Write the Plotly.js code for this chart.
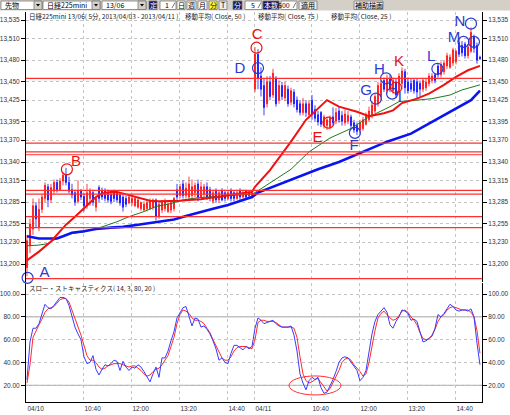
<!DOCTYPE html>
<html>
<head>
<meta charset="utf-8">
<script src="https://cdn.plot.ly/plotly-3.0.1.min.js"></script>
<style>
html,body{margin:0;padding:0;background:#fff;overflow:hidden}
#chart{width:510px;height:415px}
</style>
</head>
<body>
<div id="chart"></div>
<script>
// ---------- DATA ----------
const barOpen = [
13195,13225,13248,13280,13250,13275,13290,13306,13288,13300,
13312,13302,13314,13322,13312,13302,13298,13286,13300,13293,
13280,13290,13298,13278,13305,13300,13300,13298,13296,13298,
13298,13295,13292,13290,13284,13284,13280,13278,13276,13274,
13276,13276,13278,13288,13266,13274,13276,13272,13274,13276,
13302,13294,13310,13294,13292,13294,13298,13310,13292,13296,
13306,13302,13286,13300,13288,13300,13298,13290,13300,13298,
13290,13300,13292,13300,13298,13294,
13440,13488,13458,13445,13420,13450,13432,13455,13425,13445,
13428,13440,13422,13436,13425,13420,13408,13420,13405,13425,
13412,13405,13408,13390,13390,13388,13402,13396,13410,13404,
13394,13396,13402,13394,13390,13384,13386,13392,13398,13404,
13410,13420,13430,13452,13438,13455,13438,13450,13436,13448,
13464,13450,13448,13452,13450,13448,13440,13442,13448,13452,
13460,13472,13460,13464,13472,13470,13476,13478,13504,13500,
13502,13486,13492,13512,13500,13484];
const barHigh = [
13240,13262,13290,13285,13290,13296,13312,13310,13310,13316,
13316,13318,13326,13332,13320,13310,13302,13315,13303,13297,
13310,13304,13302,13292,13308,13305,13304,13302,13300,13302,
13300,13298,13296,13294,13295,13296,13293,13292,13286,13286,
13287,13290,13290,13290,13285,13288,13290,13285,13286,13292,
13310,13310,13315,13312,13320,13316,13312,13316,13313,13310,
13312,13306,13302,13304,13300,13304,13302,13302,13304,13300,
13302,13304,13302,13302,13300,13300,
13498,13495,13470,13455,13458,13458,13468,13458,13452,13450,
13450,13445,13442,13440,13430,13425,13428,13425,13424,13432,
13418,13410,13410,13405,13402,13404,13415,13414,13416,13410,
13412,13410,13405,13398,13394,13398,13402,13408,13416,13424,
13434,13450,13452,13456,13460,13460,13456,13454,13462,13470,
13468,13456,13455,13455,13455,13452,13455,13454,13462,13462,
13462,13476,13478,13480,13490,13488,13497,13494,13510,13506,
13505,13502,13525,13515,13504,13486];
const barLow = [
13183,13215,13240,13250,13245,13270,13285,13278,13284,13296,
13298,13300,13308,13308,13297,13290,13280,13283,13288,13272,
13276,13280,13280,13272,13285,13288,13286,13284,13282,13285,
13285,13280,13272,13278,13282,13280,13278,13276,13273,13272,
13272,13274,13274,13260,13262,13270,13272,13270,13270,13272,
13288,13290,13290,13290,13288,13290,13292,13286,13290,13292,
13288,13286,13283,13284,13284,13286,13286,13288,13286,13286,
13288,13288,13290,13289,13290,13290,
13436,13440,13430,13404,13415,13425,13428,13416,13420,13425,
13424,13416,13418,13415,13408,13404,13404,13402,13400,13398,
13396,13390,13388,13386,13384,13385,13390,13392,13394,13390,
13390,13392,13386,13380,13377,13380,13383,13390,13396,13400,
13407,13416,13425,13436,13434,13436,13434,13428,13432,13440,
13434,13434,13436,13434,13427,13430,13436,13438,13444,13448,
13448,13456,13456,13460,13468,13468,13472,13474,13484,13485,
13482,13482,13490,13490,13475,13480];
const barClose = [
13232,13255,13280,13262,13275,13292,13308,13288,13305,13312,
13302,13314,13322,13312,13300,13295,13285,13300,13292,13280,
13298,13300,13285,13290,13290,13292,13290,13288,13286,13290,
13288,13284,13278,13282,13292,13290,13290,13288,13284,13282,
13284,13286,13288,13266,13282,13286,13286,13282,13284,13290,
13292,13306,13294,13304,13310,13306,13308,13292,13306,13306,
13292,13290,13298,13288,13298,13288,13290,13298,13290,13290,
13298,13292,13298,13292,13294,13298,
13488,13455,13440,13415,13450,13430,13462,13420,13445,13430,
13445,13420,13438,13420,13412,13408,13420,13408,13420,13405,
13400,13395,13392,13402,13398,13400,13394,13408,13398,13396,
13406,13404,13390,13384,13382,13394,13398,13404,13410,13418,
13430,13445,13448,13440,13455,13440,13452,13432,13458,13465,
13442,13438,13440,13438,13436,13440,13452,13450,13458,13458,
13452,13460,13474,13476,13486,13484,13494,13492,13488,13490,
13486,13498,13518,13496,13480,13482];

const tickBars = [0,19,35,51,67,76,95,111,127,143];
const tickLabels = ['04/10','10:40','12:00','13:20','14:40','04/11','10:40','12:00','13:20','14:40'];

const ma25Bars = [0,4,8,11,13,16,19,21,23,25,28,30,32,34,37,39,41,44,48,51,54,58,61,64,68,71,75,76,81,88,93,100,104,110,114,119,122,125,130,134,139,143,147,151];
const ma25 = [13205,13217,13231,13244,13254,13265,13276,13284,13292,13297,13299,13299,13297,13295,13292,13289,13287,13286,13286,13287,13288,13289,13291,13292,13295,13297,13299,13306,13329,13368,13398,13425,13416,13409,13403,13407,13411,13421,13427,13434,13446,13457,13466,13472];

const ma50Bars = [0,2,4,7,9,12,15,19,22,25,30,34,39,43,48,52,57,61,65,70,75,76,88,94,101,108,114,121,124,130,135,141,145,151];
const ma50 = [13225,13225,13226,13228,13233,13238,13242,13244,13247,13251,13258,13265,13272,13279,13283,13288,13291,13292,13293,13294,13296,13298,13330,13354,13373,13386,13402,13416,13423,13425,13427,13432,13439,13446];

const ma75Bars = [0,2,4,8,10,12,15,19,23,28,32,37,41,44,49,53,58,62,67,71,75,77,97,104,112,120,128,134,141,148,151];
const ma75 = [13238,13237,13235,13235,13235,13238,13243,13245,13248,13250,13251,13254,13256,13258,13261,13266,13272,13276,13281,13287,13292,13298,13330,13340,13354,13368,13379,13393,13409,13425,13438];

const priceTicks = [13535,13510,13480,13450,13425,13395,13370,13340,13315,13285,13255,13230,13200];
const supportLevels = [13455,13366,13354,13350,13301,13296,13265,13250,13180];

const stochK = [
25,58,70,70,74,83,91,88,87,90,
94,97,97,96,90,80,71,65,60,45,
39,40,46,34,29,34,38,37,39,42,
41,33,41,36,33,36,35,38,36,32,
28,23,30,36,27,44,44,50,59,67,
79,84,88,89,80,72,79,78,71,72,
69,65,59,52,42,44,40,39,48,55,
55,53,51,54,52,54,70,79,77,74,
75,76,77,74,72,71,71,71,72,64,
50,30,22,16,24,27,25,27,18,13,
14,19,25,32,40,44,45,44,40,37,
33,24,27,33,48,65,76,82,85,88,
84,73,70,76,80,86,85,83,77,78,
76,66,58,59,61,63,70,82,80,83,
87,91,89,86,85,86,86,85,87,80,
57,38];
const stochD = [
22,38,62,68,73,78,84,87,88,89,
92,95,96,96,93,86,78,71,64,55,
46,42,42,40,36,34,35,37,38,39,
39,39,38,37,36,37,37,35,33,30,
28,29,32,34,35,38,42,46,54,62,
74,82,86,85,83,79,77,77,76,74,
70,66,60,55,49,44,42,42,45,50,
53,54,54,54,53,52,60,75,77,77,
76,76,76,75,73,71,71,71,71,70,
62,45,30,24,22,23,25,26,22,18,
15,17,22,27,33,40,43,44,42,38,
35,32,28,30,40,55,68,79,83,85,
82,79,77,78,81,85,86,84,80,77,
73,66,61,60,61,64,69,76,80,82,
86,88,89,88,87,86,86,86,84,80,
68,48];
const stochTicks = [100,80,60,40,20];
const stochLevels = [80,20];

const markLetters = ['A','B','C','D','E','F','G','H','I','K','L','M','N','O'];
const markBars   = [5.8,16.3,76.7,71,96.8,109,113,117.5,124.3,124,134.7,142.3,144.3,153.4];
const markPrices = [13188,13340,13514,13468,13373,13361,13437,13466,13427,13477,13484,13510,13532,13495];
const markTone   = ['b','r','r','b','r','b','b','b','b','r','b','b','b','b'];

const circleBars   = [0.2,13.3,76.5,77,100.5,109.3,116.3,119.7,121.7,123,136.8,145.5,149,148];
const circlePrices = [13181,13330,13497,13469,13394,13380,13427,13455,13434,13442,13468,13505,13505,13530];
const circleTone   = ['b','r','r','b','r','b','b','b','b','r','b','b','b','b'];

const stochZoneBar = 96;
const stochZoneValue = 20.3;

// ---------- STYLE ----------
const RED = '#ff1010', BLUE = '#1010ff';
const LBL_RED = '#e81010', LBL_BLUE = '#2a3bd0';
const tone = t => t === 'r' ? LBL_RED : LBL_BLUE;
const barIndex = barClose.map((_, i) => i);
const fmtPrice = v => v.toLocaleString('en-US');
const small = {family: 'Liberation Sans, Arial, sans-serif', size: 6.5, color: '#333'};
const cjk = {family: 'Noto Sans CJK JP, sans-serif', size: 6.5, color: '#222'};
const letterSizes = markLetters.map(l => l === 'O' ? 12 : 15);

const traces = [
  {type: 'candlestick', x: barIndex, open: barOpen, high: barHigh, low: barLow, close: barClose,
   xaxis: 'x2', yaxis: 'y', whiskerwidth: 0,
   increasing: {line: {color: RED, width: 0.8}, fillcolor: RED},
   decreasing: {line: {color: BLUE, width: 0.8}, fillcolor: BLUE},
   hoverinfo: 'skip'},
  {type: 'scatter', mode: 'lines', x: ma50Bars, y: ma50, xaxis: 'x2', yaxis: 'y',
   line: {color: '#1f7a1f', width: 1}, hoverinfo: 'skip'},
  {type: 'scatter', mode: 'lines', x: ma75Bars, y: ma75, xaxis: 'x2', yaxis: 'y',
   line: {color: '#0a14f0', width: 2.6}, hoverinfo: 'skip'},
  {type: 'scatter', mode: 'lines', x: ma25Bars, y: ma25, xaxis: 'x2', yaxis: 'y',
   line: {color: '#f01010', width: 2}, hoverinfo: 'skip'},
  {type: 'scatter', mode: 'markers', x: circleBars, y: circlePrices, xaxis: 'x2', yaxis: 'y',
   marker: {symbol: 'circle-open', size: 11, color: circleTone.map(tone), line: {width: 1.2}},
   cliponaxis: false, hoverinfo: 'skip'},
  {type: 'scatter', mode: 'text', x: markBars, y: markPrices, text: markLetters, xaxis: 'x2', yaxis: 'y',
   textposition: 'middle center',
   textfont: {family: 'Liberation Sans, Arial, sans-serif', size: letterSizes, color: markTone.map(tone)},
   cliponaxis: false, hoverinfo: 'skip'},
  {type: 'scatter', mode: 'lines', x: barIndex, y: stochD, xaxis: 'x', yaxis: 'y2',
   line: {color: '#ff2a2a', width: 1}, hoverinfo: 'skip'},
  {type: 'scatter', mode: 'lines', x: barIndex, y: stochK, xaxis: 'x', yaxis: 'y2',
   line: {color: '#3a3aff', width: 1}, hoverinfo: 'skip'},
  {type: 'scatter', x: [], y: [], xaxis: 'x2', yaxis: 'y3', hoverinfo: 'skip'},
  {type: 'scatter', x: [], y: [], xaxis: 'x', yaxis: 'y4', hoverinfo: 'skip'}
];

const xRange = [-0.33, 151.67];
const priceRange = [13175.3, 13546];
const stochRange = [5.36, 109.64];
const grid = {showgrid: true, gridcolor: '#c4c4c4', griddash: 'dot', gridwidth: 1, zeroline: false};

const yMain = Object.assign({}, grid, {
  domain: [0.3077, 1], anchor: 'x2', range: priceRange, tickmode: 'array',
  tickvals: priceTicks, ticktext: priceTicks.map(fmtPrice), ticks: 'outside', ticklen: 4,
  tickcolor: '#000', showline: true, linecolor: '#000', linewidth: 1, tickfont: small, fixedrange: true});
const yStoch = Object.assign({}, grid, {
  domain: [0, 0.3051], anchor: 'x', range: stochRange, tickmode: 'array',
  tickvals: stochTicks, ticktext: stochTicks.map(v => v.toFixed(2)), ticks: 'outside', ticklen: 4,
  tickcolor: '#000', showline: true, linecolor: '#000', linewidth: 1, tickfont: small, fixedrange: true});

// ---------- PAGE FURNITURE (toolbar / headers) ----------
const px2x = p => (p - 26) / 456;
const py2y = p => (402 - p) / 390;
const shapes = [];
const annotations = [];

supportLevels.forEach(v => shapes.push({type: 'line', xref: 'paper', yref: 'y', x0: 0, x1: 1, y0: v, y1: v,
  line: {color: '#ff3030', width: 1.2}, layer: 'above'}));
stochLevels.forEach(v => shapes.push({type: 'line', xref: 'paper', yref: 'y2', x0: 0, x1: 1, y0: v, y1: v,
  line: {color: '#a0a0a0', width: 1}, layer: 'below'}));
shapes.push({type: 'circle', xref: 'x', yref: 'y2', xsizemode: 'pixel', ysizemode: 'pixel',
  xanchor: stochZoneBar, yanchor: stochZoneValue, x0: -26, x1: 26, y0: -10, y1: 9,
  line: {color: '#ff3030', width: 1}});

// toolbar background
shapes.push({type: 'rect', xref: 'paper', yref: 'paper', x0: px2x(0), x1: px2x(510), y0: py2y(10.5), y1: py2y(0),
  fillcolor: '#d4d0c8', line: {width: 0}, layer: 'above'});

const toolbar = [
  {kind: 'combo', a: 1, b: 42, t: '先物'},
  {kind: 'combo', a: 43, b: 100, t: '日経225mini'},
  {kind: 'combo', a: 102, b: 146, t: '13/06'},
  {kind: 'btn', a: 149, b: 157, t: '定', bg: '#14145a', fg: '#fff'},
  {kind: 'spin', a: 160, b: 176, t: '1'},
  {kind: 'btn', a: 177, b: 185, t: '日', bg: '#fff'},
  {kind: 'btn', a: 187, b: 196, t: '週', bg: '#fff'},
  {kind: 'btn', a: 198, b: 207, t: '月', bg: '#fff'},
  {kind: 'btn', a: 209, b: 217, t: '分', bg: '#ffff30'},
  {kind: 'btn', a: 219, b: 227, t: 'T', bg: '#ececec'},
  {kind: 'btn', a: 233, b: 242, t: '分', bg: '#14145a', fg: '#fff'},
  {kind: 'spin', a: 245, b: 262, t: '5'},
  {kind: 'btn', a: 263, b: 279, t: '本数', bg: '#14145a', fg: '#fff'},
  {kind: 'spin', a: 281, b: 297, t: '500'},
  {kind: 'btn', a: 299, b: 317, t: '適用', bg: '#ececec'},
  {kind: 'btn', a: 354, b: 383, t: '補助描画', bg: '#ececec'}
];
const tbTop = 1, tbBot = 9.5;
const tbFont = c => ({family: 'Noto Sans CJK JP, sans-serif', size: 7, color: c || '#000'});
toolbar.forEach(w => {
  const bg = w.kind === 'btn' ? w.bg : '#fff';
  shapes.push({type: 'rect', xref: 'paper', yref: 'paper', x0: px2x(w.a), x1: px2x(w.b), y0: py2y(tbBot), y1: py2y(tbTop),
    fillcolor: bg, line: {color: '#7a7a7a', width: 0.8}, layer: 'above'});
  if (w.kind === 'combo') {
    shapes.push({type: 'rect', xref: 'paper', yref: 'paper', x0: px2x(w.b - 8), x1: px2x(w.b), y0: py2y(tbBot), y1: py2y(tbTop),
      fillcolor: '#d4d0c8', line: {color: '#7a7a7a', width: 0.8}, layer: 'above'});
    shapes.push({type: 'path', xref: 'paper', yref: 'paper', layer: 'above',
      path: `M ${px2x(w.b - 6)} ${py2y(4)} L ${px2x(w.b - 2)} ${py2y(4)} L ${px2x(w.b - 4)} ${py2y(6.5)} Z`,
      fillcolor: '#000', line: {width: 0}});
    annotations.push({xref: 'paper', yref: 'paper', x: px2x(w.a + 2), y: py2y(5.3), xanchor: 'left', yanchor: 'middle',
      text: w.t, showarrow: false, font: tbFont()});
  } else if (w.kind === 'spin') {
    annotations.push({xref: 'paper', yref: 'paper', x: px2x(w.b - 5), y: py2y(5.3), xanchor: 'right', yanchor: 'middle',
      text: w.t, showarrow: false, font: tbFont()});
    shapes.push({type: 'line', xref: 'paper', yref: 'paper', x0: px2x(w.b - 4), x1: px2x(w.b - 1), y0: py2y(8), y1: py2y(2.5),
      line: {color: '#555', width: 0.8}, layer: 'above'});
  } else {
    annotations.push({xref: 'paper', yref: 'paper', x: px2x((w.a + w.b) / 2), y: py2y(5.3), xanchor: 'center', yanchor: 'middle',
      text: w.t, showarrow: false, font: tbFont(w.fg)});
  }
});

const headerTexts = ['日経225mini 13/06( 5分, 2013/04/03 - 2013/04/11 )', '移動平均( Close, 50 )', '移動平均( Close, 75 )', '移動平均( Close, 25 )'];
const headerPx = [27, 183, 256, 329];
headerTexts.forEach((t, i) => annotations.push({xref: 'paper', yref: 'paper', x: px2x(headerPx[i]), y: py2y(16),
  xanchor: 'left', yanchor: 'middle', text: t, showarrow: false, font: cjk}));
annotations.push({xref: 'paper', yref: 'paper', x: px2x(27), y: py2y(288.5), xanchor: 'left', yanchor: 'middle',
  text: 'スロー・ストキャスティクス( 14, 3, 80, 20 )', showarrow: false, font: cjk});

const layout = {
  width: 510, height: 415,
  margin: {l: 26, r: 28, t: 12, b: 13, pad: 0},
  paper_bgcolor: '#fff', plot_bgcolor: '#fff', showlegend: false,
  font: small,
  boxgap: 0.5,
  xaxis: Object.assign({}, grid, {anchor: 'y2', domain: [0, 1], range: xRange, tickmode: 'array',
    tickvals: tickBars, ticktext: tickLabels, ticks: '', showline: true, linecolor: '#000', linewidth: 1,
    ticklabelposition: 'outside right', tickfont: small, fixedrange: true, rangeslider: {visible: false}}),
  xaxis2: Object.assign({}, grid, {anchor: 'y', domain: [0, 1], range: xRange, tickmode: 'array',
    tickvals: tickBars, showticklabels: false, ticks: '', showline: false, fixedrange: true,
    rangeslider: {visible: false}}),
  yaxis: yMain,
  yaxis3: Object.assign({}, yMain, {overlaying: 'y', side: 'right', showgrid: false}),
  yaxis2: yStoch,
  yaxis4: Object.assign({}, yStoch, {overlaying: 'y2', side: 'right', showgrid: false}),
  shapes: shapes,
  annotations: annotations
};

Plotly.newPlot('chart', traces, layout, {staticPlot: true, displayModeBar: false});
</script>
</body>
</html>
